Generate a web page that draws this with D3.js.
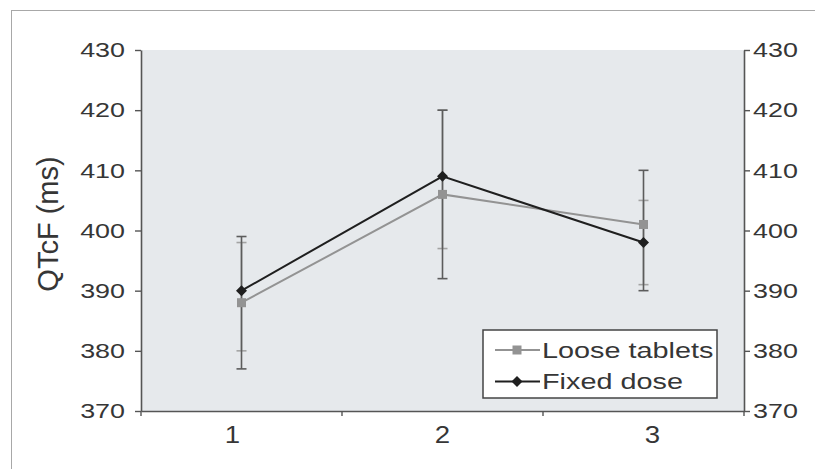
<!DOCTYPE html>
<html>
<head>
<meta charset="utf-8">
<script src="https://cdn.jsdelivr.net/npm/d3@7"></script>
<style>
  html, body { margin: 0; padding: 0; background: #fff; }
  svg { display: block; font-family: "Liberation Sans", Arial, Helvetica, sans-serif; }
</style>
</head>
<body>
<svg id="chart" width="815" height="469"></svg>
<script>
// Visit categories and QTcF values (ms)
const categories = ["1", "2", "3"];
const yTicks = [370, 380, 390, 400, 410, 420, 430];

const looseMean = [388, 406, 401];
const looseLow  = [380, 397, 391];
const looseHigh = [398, 420, 405];

const fixedMean = [390, 409, 398];
const fixedLow  = [377, 392, 390];
const fixedHigh = [399, 420, 410];

const seriesNames = ["Loose tablets", "Fixed dose"];

const svg = d3.select("#chart");
const plotLeft = 141, plotRight = 744, plotTop = 50, plotBottom = 411;

const x = d3.scaleBand().domain(categories).range([plotLeft, plotRight]).padding(0);
const cx = d => x(d) + x.bandwidth() / 2;
const y = d3.scaleLinear().domain([370, 430]).range([plotBottom, plotTop]);

const axisColor = "#555";
const textColor = "#363636";

// widen glyphs horizontally, keeping the anchor
function stretch(sel, k) {
  sel.each(function () {
    const w = this.getComputedTextLength();
    d3.select(this).attr("textLength", w * k).attr("lengthAdjust", "spacingAndGlyphs");
  });
}

// outer frame lines
svg.append("line").attr("x1", 12).attr("x2", 815).attr("y1", 10.5).attr("y2", 10.5)
  .attr("stroke", "#a8a8a8").attr("stroke-width", 1);
svg.append("line").attr("x1", 11.5).attr("x2", 11.5).attr("y1", 10).attr("y2", 469)
  .attr("stroke", "#a8a8a8").attr("stroke-width", 1);

// plot area
svg.append("rect").attr("x", plotLeft).attr("y", plotTop)
  .attr("width", plotRight - plotLeft).attr("height", plotBottom - plotTop)
  .attr("fill", "#e6e9ec");

// left axis
const gl = svg.append("g").attr("transform", `translate(${plotLeft},0)`)
  .call(d3.axisLeft(y).tickValues(yTicks).tickSize(6).tickSizeOuter(0).tickPadding(10));
// right axis
const gr = svg.append("g").attr("transform", `translate(${plotRight},0)`)
  .call(d3.axisRight(y).tickValues(yTicks).tickSize(6).tickSizeOuter(0).tickPadding(3));
[gl, gr].forEach(g => {
  g.select(".domain").attr("stroke", axisColor).attr("stroke-width", 1.6);
  g.selectAll(".tick line").attr("stroke", axisColor).attr("stroke-width", 1.4);
  g.selectAll(".tick text").attr("font-size", 21).attr("fill", textColor)
    .attr("font-family", "Liberation Sans, Arial, sans-serif");
  stretch(g.selectAll(".tick text"), 1.28);
});

// bottom axis: labels at category centres, ticks at category boundaries
const gb = svg.append("g").attr("transform", `translate(0,${plotBottom})`)
  .call(d3.axisBottom(x).tickSize(0).tickSizeOuter(0).tickPadding(16));
gb.select(".domain").attr("stroke", axisColor).attr("stroke-width", 1.6);
const mid = (plotLeft + plotRight) / 2;
gb.selectAll(".tick text").attr("font-size", 23).attr("fill", textColor)
  .attr("font-family", "Liberation Sans, Arial, sans-serif")
  .attr("x", d => (cx(d) - mid) * 0.045);
stretch(gb.selectAll(".tick text"), 1.2);
const bounds = categories.map(d => x(d)).concat([plotRight]);
svg.append("g").selectAll("line").data(bounds).join("line")
  .attr("x1", d => d).attr("x2", d => d)
  .attr("y1", plotBottom).attr("y2", plotBottom + 5)
  .attr("stroke", axisColor).attr("stroke-width", 1.4);

// y axis title
svg.append("g").attr("transform", "translate(58,224)")
  .append("text").attr("transform", "rotate(-90)")
  .attr("text-anchor", "middle").attr("font-size", 29).attr("fill", textColor)
  .text("QTcF (ms)");

// series definitions
const series = [
  { name: seriesNames[0], mean: looseMean, low: looseLow, high: looseHigh,
    line: "#939393", err: "#a3a3a3", marker: "square" },
  { name: seriesNames[1], mean: fixedMean, low: fixedLow, high: fixedHigh,
    line: "#1f1f1f", err: "#5c5c5c", marker: "diamond" }
];

function drawMarker(g, type, px, py, color) {
  if (type === "square") {
    g.append("rect").attr("x", px - 4.5).attr("y", py - 4.5)
      .attr("width", 9).attr("height", 9).attr("fill", color);
  } else {
    const r = 5.5;
    g.append("path")
      .attr("d", `M${px},${py - r}L${px + r},${py}L${px},${py + r}L${px - r},${py}Z`)
      .attr("fill", color);
  }
}

// error bars
series.forEach(s => {
  const g = svg.append("g").attr("stroke", s.err).attr("stroke-width", 1.6);
  categories.forEach((c, i) => {
    g.append("line").attr("x1", cx(c)).attr("x2", cx(c))
      .attr("y1", y(s.low[i])).attr("y2", y(s.high[i]));
    [s.low[i], s.high[i]].forEach(v => {
      g.append("line").attr("x1", cx(c) - 5).attr("x2", cx(c) + 5)
        .attr("y1", y(v)).attr("y2", y(v));
    });
  });
});

// lines and markers
const lineGen = d3.line().x((v, i) => cx(categories[i])).y(v => y(v));
series.forEach(s => {
  svg.append("path").datum(s.mean).attr("d", lineGen)
    .attr("fill", "none").attr("stroke", s.line).attr("stroke-width", 2);
});
series.forEach(s => {
  const g = svg.append("g");
  s.mean.forEach((v, i) => drawMarker(g, s.marker, cx(categories[i]), y(v), s.line));
});

// legend
const lg = svg.append("g");
lg.append("rect").attr("x", 483).attr("y", 330).attr("width", 234).attr("height", 68)
  .attr("fill", "#fff").attr("stroke", "#444").attr("stroke-width", 1.5);
series.forEach((s, i) => {
  const ly = 350 + i * 31.5;
  lg.append("line").attr("x1", 495).attr("x2", 540).attr("y1", ly).attr("y2", ly)
    .attr("stroke", s.line).attr("stroke-width", 2);
  drawMarker(lg, s.marker, 517, ly, s.line);
  const t = lg.append("text").attr("x", 542).attr("y", ly).attr("dy", "0.36em")
    .attr("font-size", 22).attr("fill", textColor).text(s.name);
  stretch(t, 1.31);
});
</script>
</body>
</html>
